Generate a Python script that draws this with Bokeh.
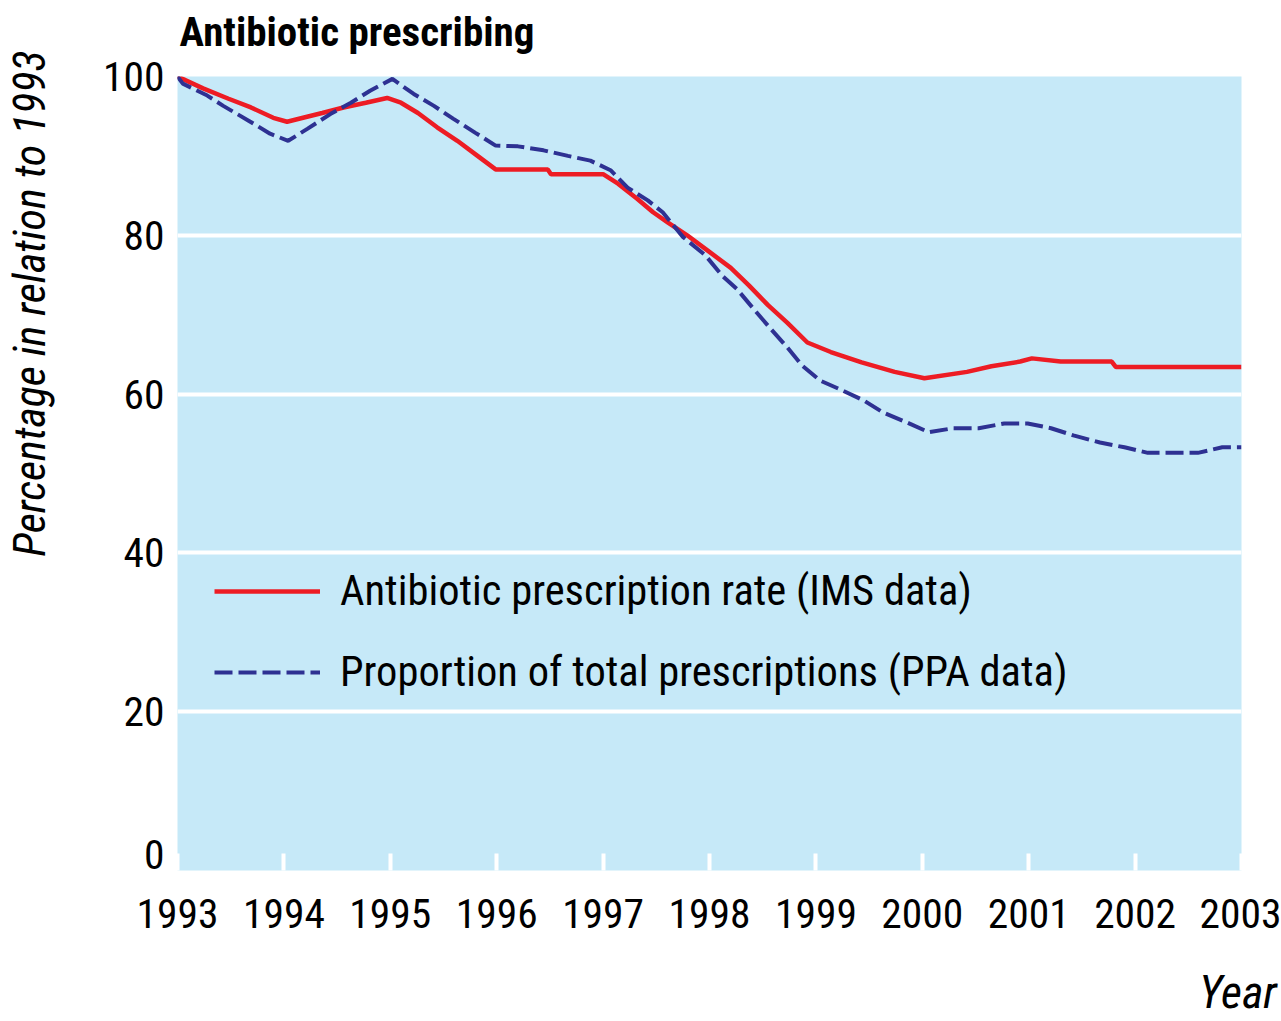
from bokeh.plotting import figure
from bokeh.models import Range1d, FixedTicker, Legend, LegendItem, LinearAxis
from bokeh.embed import file_html
from bokeh.resources import INLINE

# ---- data ----
years = [1993, 1994, 1995, 1996, 1997, 1998, 1999, 2000, 2001, 2002, 2003]
y_ticks = [0, 20, 40, 60, 80, 100]
grid_ticks = [20, 40, 60, 80]

ims_x = [1993.0, 1993.24, 1993.48, 1993.69, 1993.90, 1994.03, 1994.18, 1994.36, 1994.56,
         1994.77, 1994.97, 1995.10, 1995.26, 1995.44, 1995.63, 1995.82, 1995.99, 1996.48,
         1996.51, 1997.00, 1997.14, 1997.32, 1997.47, 1997.61, 1997.79, 1997.98, 1998.20,
         1998.37, 1998.55, 1998.73, 1998.92, 1999.14, 1999.43, 1999.74, 2000.02, 2000.42,
         2000.65, 2000.92, 2001.03, 2001.30, 2001.78, 2001.82, 2003.0]
ims_y = [100.0, 98.5, 97.2, 96.1, 94.8, 94.3, 94.8, 95.4, 96.1,
         96.7, 97.3, 96.7, 95.4, 93.6, 91.9, 90.0, 88.3, 88.3,
         87.7, 87.7, 86.5, 84.6, 82.9, 81.6, 80.0, 78.1, 75.9,
         73.7, 71.2, 69.0, 66.5, 65.3, 64.0, 62.8, 62.0, 62.8,
         63.5, 64.1, 64.5, 64.1, 64.1, 63.4, 63.4]

ppa_x = [1993.0, 1993.05, 1993.28, 1993.43, 1993.66, 1993.87, 1994.04, 1994.22, 1994.44,
         1994.63, 1994.81, 1995.02, 1995.22, 1995.41, 1995.59, 1995.80, 1995.99, 1996.20,
         1996.44, 1996.67, 1996.88, 1997.07, 1997.23, 1997.42, 1997.56, 1997.75, 1997.96,
         1998.12, 1998.26, 1998.41, 1998.57, 1998.73, 1998.87, 1999.04, 1999.21, 1999.45,
         1999.63, 1999.86, 2000.06, 2000.29, 2000.53, 2000.77, 2000.99, 2001.21, 2001.42,
         2001.67, 2001.90, 2002.12, 2002.59, 2002.82, 2003.0]
ppa_y = [100.0, 99.1, 97.6, 96.3, 94.5, 92.8, 91.9, 93.4, 95.3,
         96.7, 98.2, 99.7, 97.8, 96.3, 94.7, 92.9, 91.3, 91.2,
         90.7, 90.0, 89.4, 88.2, 86.0, 84.4, 82.9, 79.8, 77.5,
         74.9, 73.2, 70.8, 68.3, 65.9, 63.6, 61.7, 60.7, 59.2,
         57.7, 56.4, 55.2, 55.7, 55.7, 56.3, 56.3, 55.7, 54.8,
         53.9, 53.3, 52.6, 52.6, 53.3, 53.3]

title_text = "Antibiotic prescribing"
y_title = "Percentage in relation to 1993"
x_title = "Year"
label_ims = "Antibiotic prescription rate (IMS data)"
label_ppa = "Proportion of total prescriptions (PPA data)"

# layout anchors for the outer texts (axis positions where they are centred)
TITLE_AT = 1994.687
YTITLE_AT = 71.4
XTITLE_AT = 2002.967
ZERO_LABEL_AT = 2   # the "0" label sits slightly above the baseline in the original

FONT = "Roboto Condensed, DejaVu Sans Condensed, Liberation Sans Narrow, Liberation Sans, sans-serif"
RED = "#ED1C24"
BLUE = "#2E3192"
BG = "#C6E9F8"

p = figure(width=1281, height=1021, output_backend="svg", toolbar_location=None,
           x_range=Range1d(1993, 2003), y_range=Range1d(0, 100),
           min_border_left=177, min_border_right=40, min_border_top=76, min_border_bottom=151)
p.background_fill_color = BG
p.border_fill_color = "white"
p.outline_line_color = None
p.title.text = ""

r1 = p.line(ims_x, ims_y, line_color=RED, line_width=4.5)
r2 = p.line(ppa_x, ppa_y, line_color=BLUE, line_width=4, line_dash="18 6")


def plain(axis):
    axis.axis_line_color = None
    axis.major_tick_line_color = None
    axis.minor_tick_line_color = None
    axis.major_label_text_color = "black"
    axis.major_label_text_font = FONT


# x axis
xa = p.xaxis[0]
plain(xa)
xa.ticker = FixedTicker(ticks=years)
xa.major_label_overrides = {y: str(y) for y in years}
xa.major_tick_in = 17
xa.major_tick_out = 0
xa.major_tick_line_color = "white"
xa.major_tick_line_width = 4
xa.major_label_text_font_size = "41.5px"
xa.major_label_standoff = 28

# y axis
ya = p.yaxis[0]
plain(ya)
ya_positions = [ZERO_LABEL_AT] + y_ticks[1:]
ya.ticker = FixedTicker(ticks=ya_positions)
ya.major_label_overrides = {pos: str(t) for pos, t in zip(ya_positions, y_ticks)}
ya.major_label_text_font_size = "41.5px"
ya.major_label_standoff = 7

p.xgrid.visible = False
p.ygrid.ticker = FixedTicker(ticks=grid_ticks)
p.ygrid.grid_line_color = "white"
p.ygrid.grid_line_width = 4

# chart title (above), y-axis title (left), x-axis title (below) as single-label axes
ax_title = LinearAxis(ticker=FixedTicker(ticks=[TITLE_AT]),
                      major_label_overrides={TITLE_AT: title_text})
plain(ax_title)
ax_title.major_label_text_font_size = "41px"
ax_title.major_label_text_font_style = "bold"
ax_title.major_label_standoff = 15
p.add_layout(ax_title, "above")

ax_ytitle = LinearAxis(ticker=FixedTicker(ticks=[YTITLE_AT]),
                       major_label_overrides={YTITLE_AT: y_title})
plain(ax_ytitle)
ax_ytitle.major_label_text_font_size = "44px"
ax_ytitle.major_label_text_font_style = "italic"
ax_ytitle.major_label_orientation = "vertical"
ax_ytitle.major_label_standoff = 38
p.add_layout(ax_ytitle, "left")

ax_xtitle = LinearAxis(ticker=FixedTicker(ticks=[XTITLE_AT]),
                       major_label_overrides={XTITLE_AT: x_title})
plain(ax_xtitle)
ax_xtitle.major_label_text_font_size = "46px"
ax_xtitle.major_label_text_font_style = "italic"
ax_xtitle.major_label_standoff = 28
p.add_layout(ax_xtitle, "below")

legend = Legend(items=[LegendItem(label=label_ims, renderers=[r1]),
                       LegendItem(label=label_ppa, renderers=[r2])],
                location=(37, 174), padding=0, margin=0, spacing=32,
                glyph_width=106, glyph_height=40, label_standoff=20,
                label_text_font=FONT, label_text_font_size="42.5px",
                label_text_color="black",
                background_fill_alpha=0, border_line_alpha=0)
p.add_layout(legend, "center")

open("out.html", "w").write(file_html(p, INLINE))
